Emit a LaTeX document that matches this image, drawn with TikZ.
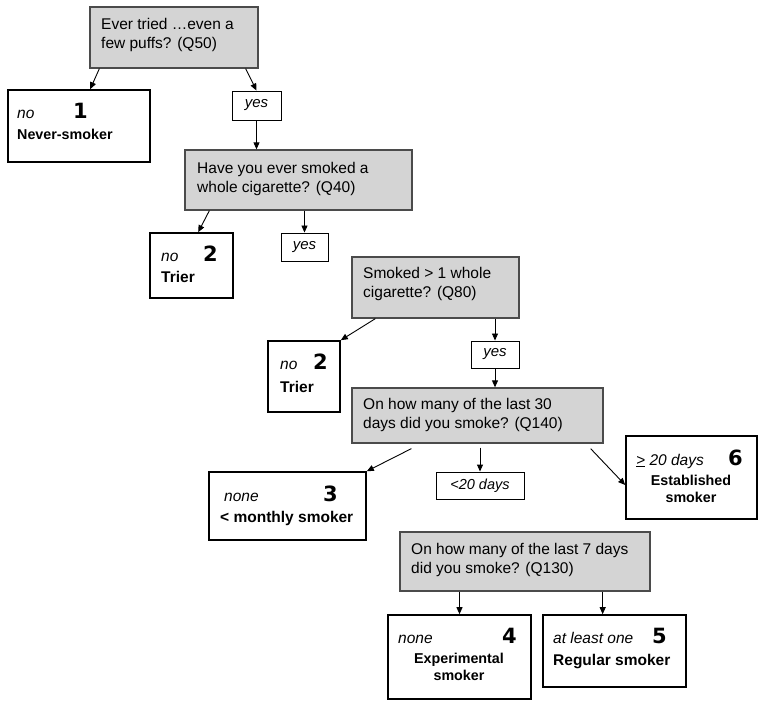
\documentclass[tikz,border=0pt]{standalone}
\usepackage{fontspec}
\setmainfont{Liberation Sans}
\newfontfamily\heavyfont{DejaVu Sans}
\usetikzlibrary{arrows.meta}
\definecolor{qgray}{RGB}{212,212,212}
\definecolor{qstroke}{RGB}{75,75,75}

\begin{document}
\begin{tikzpicture}[
  x=1pt, y=-1pt,
  font=\rmfamily,
  arrow/.style={-{Triangle[length=7pt,width=6pt]}, line width=0.9pt},
  question/.style={draw=qstroke, line width=1.3pt, fill=qgray, inner sep=0pt},
  outcome/.style={draw, line width=1.6pt, fill=white, inner sep=0pt},
  answer/.style={draw, line width=0.9pt, fill=white, inner sep=0pt, font=\fontsize{15}{18}\selectfont\itshape},
  qtext/.style={anchor=north west, inner sep=0pt, align=left, font=\fontsize{15.5}{19.5}\selectfont},
  cond/.style={anchor=base west, inner sep=0pt, font=\fontsize{15.5}{18}\selectfont\itshape},
  num/.style={anchor=base west, inner sep=0pt, font=\heavyfont\fontsize{21}{24}\selectfont\bfseries},
  outname/.style={anchor=base west, inner sep=0pt, font=\fontsize{15.5}{18}\selectfont\bfseries},
  outnamesmall/.style={inner sep=0pt, align=center, font=\fontsize{14.3}{17}\selectfont\bfseries}
]

\path[use as bounding box] (0,0) rectangle (768,708);

% Q50
\node[question, minimum width=168pt, minimum height=61pt] (q50) at (174,37.5) {};
\node[qtext] (q50t) at (101,18) {Ever tried …even a\\few puffs? (Q50)};
\node[outcome, minimum width=142pt, minimum height=72pt] (out1) at (79,126) {};
\node[cond] (out1c) at (17,119) {no};
\node[num] (out1n) at (73,119) {1};
\node[outnamesmall, anchor=base west] (out1t) at (17,140) {Never-smoker};
\node[answer, minimum width=49pt, minimum height=29pt] (yes50) at (256.5,105.5) {yes};
\draw[arrow] ([xshift=10pt]q50.south west) -- ([xshift=83pt]out1.north west);
\draw[arrow] ([xshift=-13pt]q50.south east) -- (yes50.north);

% Q40
\node[question, minimum width=227pt, minimum height=60pt] (q40) at (298.5,180) {};
\node[qtext] (q40t) at (197,162) {Have you ever smoked a\\whole cigarette? (Q40)};
\node[outcome, minimum width=83pt, minimum height=65pt] (out2a) at (191.5,265.5) {};
\node[cond] (out2ac) at (161,262) {no};
\node[num] (out2an) at (203,262) {2};
\node[outname] (out2at) at (161,283) {Trier};
\node[answer, minimum width=47pt, minimum height=28pt] (yes40) at (304.5,247) {yes};
\draw[arrow] (yes50.south) -- (yes50.south |- q40.north);
\draw[arrow] ([xshift=25pt]q40.south west) -- ([xshift=49pt]out2a.north west);
\draw[arrow] (yes40.north |- q40.south) -- (yes40.north);

% Q80
\node[question, minimum width=167pt, minimum height=61pt] (q80) at (435.5,287.5) {};
\node[qtext] (q80t) at (363,267) {Smoked > 1 whole\\cigarette? (Q80)};
\node[outcome, minimum width=72pt, minimum height=71pt] (out2b) at (304,376.5) {};
\node[cond] (out2bc) at (280,370) {no};
\node[num] (out2bn) at (313,370) {2};
\node[outname] (out2bt) at (280,392) {Trier};
\node[answer, minimum width=48pt, minimum height=27pt] (yes80) at (495,354.5) {yes};
\draw[arrow] ([xshift=24pt]q80.south west) -- (out2b.north east);
\draw[arrow] (yes80.north |- q80.south) -- (yes80.north);

% Q140
\node[question, minimum width=251pt, minimum height=55pt] (q140) at (477.5,415.5) {};
\node[qtext] (q140t) at (363,398) {On how many of the last 30\\days did you smoke? (Q140)};
\node[outcome, minimum width=157pt, minimum height=68pt] (out3) at (287.5,506) {};
\node[cond] (out3c) at (224,501) {none};
\node[num] (out3n) at (323,501) {3};
\node[outname] (out3t) at (220,522) {< monthly smoker};
\node[answer, minimum width=88pt, minimum height=27pt, font=\fontsize{14.5}{17}\selectfont\itshape] (less20) at (480,485.5) {<20 days};
\node[outcome, minimum width=131pt, minimum height=83pt] (out6) at (691.5,477.5) {};
\node[cond] (out6c) at (636,465) {\underline{>} 20 days};
\node[num] (out6n) at (728,465) {6};
\node[outnamesmall, anchor=north] (out6t) at (691,474.5) {Established\\smoker};
\draw[arrow] (yes80.south) -- (yes80.south |- q140.north);
\draw[arrow] ([shift={(60pt,-5pt)}]q140.south west) -- (out3.north east);
\draw[arrow] ([yshift=-4pt]q140.south -| less20.north) -- (less20.north);
\draw[arrow] ([shift={(-13pt,-5pt)}]q140.south east) -- ([yshift=-7.5pt]out6.west);

% Q130
\node[question, minimum width=250pt, minimum height=59pt] (q130) at (525,561.5) {};
\node[qtext] (q130t) at (411,543) {On how many of the last 7 days\\did you smoke? (Q130)};
\node[outcome, minimum width=143pt, minimum height=84pt] (out4) at (459.5,657) {};
\node[cond] (out4c) at (398,643) {none};
\node[num] (out4n) at (502,643) {4};
\node[outnamesmall, anchor=north] (out4t) at (459,652.5) {Experimental\\smoker};
\node[outcome, minimum width=143pt, minimum height=72pt] (out5) at (614.5,651) {};
\node[cond] (out5c) at (553,643) {at least one};
\node[num] (out5n) at (652,643) {5};
\node[outname] (out5t) at (553,665) {Regular smoker};
\draw[arrow] (out4.north |- q130.south) -- (out4.north);
\draw[arrow] ([xshift=-48pt]q130.south east) -- ([xshift=-48pt]q130.south east |- out5.north);

\end{tikzpicture}
\end{document}
